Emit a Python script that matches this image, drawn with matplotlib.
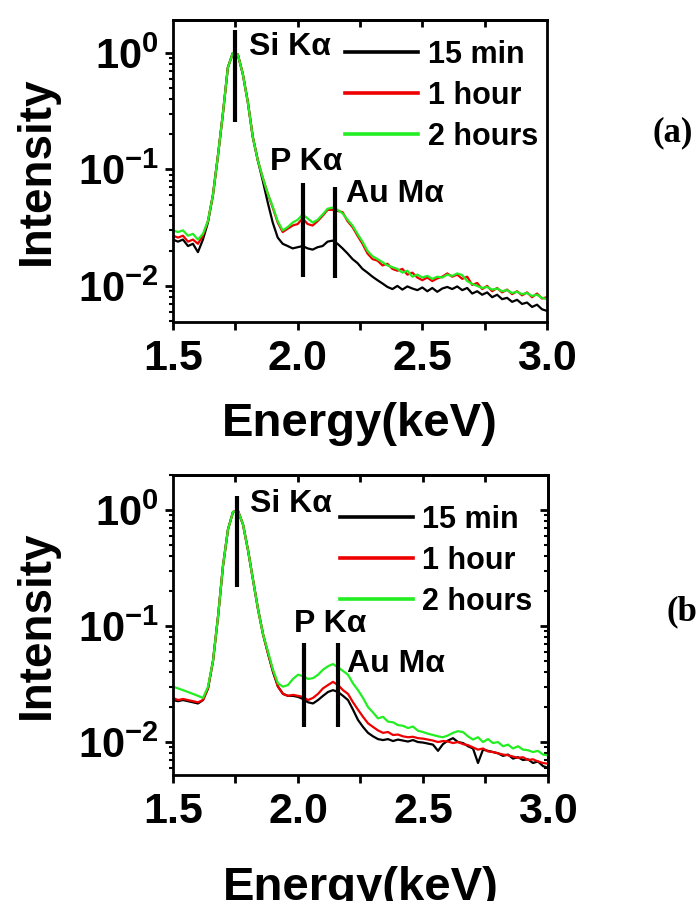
import numpy as np
import matplotlib
matplotlib.use("Agg")
import matplotlib.pyplot as plt
from matplotlib.ticker import FixedLocator, FuncFormatter, LogLocator, NullFormatter, MultipleLocator

plt.rcParams['font.family'] = ['Liberation Sans', 'DejaVu Sans']
plt.rcParams['font.weight'] = 'bold'
plt.rcParams['mathtext.fontset'] = 'custom'
plt.rcParams['mathtext.rm'] = 'Liberation Sans:bold'
plt.rcParams['mathtext.bf'] = 'Liberation Sans:bold'
plt.rcParams['mathtext.default'] = 'bf'

# Energy axis (keV), sampled every 0.02 keV
energy = np.round(np.arange(1.50, 3.001, 0.02), 2)

# ---- panel (a) spectra, normalised to Si K-alpha peak ----
a_15min = [0.025, 0.024, 0.025, 0.022, 0.023, 0.0195, 0.025, 0.035, 0.060, 0.13,
           0.30, 0.75, 1.00, 0.97, 0.66, 0.38, 0.19, 0.12, 0.080, 0.052,
           0.035, 0.026, 0.023, 0.022, 0.021, 0.0215, 0.022, 0.021, 0.0205, 0.0215,
           0.022, 0.024, 0.0245, 0.023, 0.021, 0.019, 0.017, 0.0157, 0.014, 0.0130,
           0.0120, 0.0112, 0.0105, 0.0098, 0.0094, 0.0100, 0.0093, 0.0099, 0.0095, 0.0092,
           0.0097, 0.0090, 0.0096, 0.0089, 0.0095, 0.0098, 0.0094, 0.0099, 0.0092, 0.0096,
           0.0086, 0.0090, 0.0084, 0.0088, 0.0080, 0.0084, 0.0077, 0.0079, 0.0073, 0.0076,
           0.0070, 0.0072, 0.0066, 0.0069, 0.0063, 0.0061]
a_1hour = [0.027, 0.026, 0.027, 0.024, 0.025, 0.023, 0.027, 0.036, 0.060, 0.13,
           0.30, 0.75, 1.00, 0.97, 0.66, 0.38, 0.19, 0.12, 0.085, 0.062,
           0.047, 0.035, 0.029, 0.031, 0.033, 0.034, 0.038, 0.034, 0.033, 0.036,
           0.040, 0.045, 0.045, 0.044, 0.043, 0.036, 0.032, 0.027, 0.023, 0.019,
           0.017, 0.0165, 0.0150, 0.0155, 0.0140, 0.0135, 0.0140, 0.0125, 0.0130, 0.0118,
           0.0112, 0.0118, 0.0110, 0.0116, 0.0120, 0.0128, 0.0120, 0.0125, 0.0115, 0.0120,
           0.0102, 0.0106, 0.0094, 0.0100, 0.0090, 0.0096, 0.0088, 0.0093, 0.0085, 0.0090,
           0.0083, 0.0088, 0.0080, 0.0086, 0.0078, 0.0080]
a_2hours = [0.030, 0.029, 0.030, 0.027, 0.028, 0.025, 0.028, 0.036, 0.060, 0.13,
            0.30, 0.75, 1.00, 0.97, 0.66, 0.38, 0.19, 0.12, 0.085, 0.062,
            0.048, 0.036, 0.030, 0.032, 0.035, 0.037, 0.041, 0.038, 0.035, 0.037,
            0.041, 0.046, 0.047, 0.045, 0.042, 0.037, 0.033, 0.028, 0.024, 0.020,
            0.018, 0.017, 0.016, 0.015, 0.0145, 0.014, 0.013, 0.0135, 0.012, 0.0125,
            0.0118, 0.0122, 0.0115, 0.0120, 0.0118, 0.0125, 0.0122, 0.0128, 0.0124, 0.0110,
            0.0104, 0.0100, 0.0096, 0.0098, 0.0093, 0.0095, 0.0090, 0.0092, 0.0087, 0.0089,
            0.0085, 0.0087, 0.0082, 0.0084, 0.0079, 0.0077]

# ---- panel (b) spectra ----
b_15min = [0.023, 0.0225, 0.023, 0.0225, 0.022, 0.0215, 0.023, 0.029, 0.050, 0.12,
           0.33, 0.68, 0.96, 0.98, 0.75, 0.45, 0.25, 0.14, 0.085, 0.058,
           0.040, 0.030, 0.026, 0.025, 0.025, 0.0245, 0.0235, 0.022, 0.0215, 0.023,
           0.025, 0.027, 0.028, 0.027, 0.025, 0.023, 0.019, 0.0155, 0.0135, 0.0120,
           0.0112, 0.0106, 0.0104, 0.0106, 0.0102, 0.0105, 0.0103, 0.0101, 0.0104, 0.0100,
           0.0099, 0.0097, 0.0095, 0.0084, 0.0096, 0.0103, 0.0108, 0.0100, 0.0098, 0.0092,
           0.0088, 0.0066, 0.0086, 0.0084, 0.0082, 0.0080, 0.0076, 0.0078, 0.0072, 0.0074,
           0.0070, 0.0071, 0.0066, 0.0068, 0.0062, 0.0060]
b_1hour = [0.024, 0.023, 0.0235, 0.023, 0.0225, 0.022, 0.023, 0.029, 0.050, 0.12,
           0.33, 0.68, 0.96, 0.98, 0.75, 0.45, 0.25, 0.14, 0.085, 0.058,
           0.041, 0.030, 0.026, 0.025, 0.0255, 0.025, 0.0245, 0.023, 0.024, 0.026,
           0.029, 0.031, 0.033, 0.031, 0.028, 0.026, 0.022, 0.019, 0.0165, 0.0145,
           0.0135, 0.0126, 0.0120, 0.0122, 0.0115, 0.0116, 0.0112, 0.0110, 0.0111, 0.0108,
           0.0107, 0.0105, 0.0103, 0.0100, 0.0102, 0.0101, 0.0098, 0.0100, 0.0096, 0.0094,
           0.0090, 0.0086, 0.0088, 0.0083, 0.0082, 0.0080, 0.0078, 0.0077, 0.0075, 0.0073,
           0.0074, 0.0070, 0.0071, 0.0068, 0.0066, 0.0065]
b_2hours = [0.030, 0.029, 0.028, 0.027, 0.026, 0.025, 0.024, 0.030, 0.050, 0.12,
            0.33, 0.68, 0.96, 0.98, 0.75, 0.45, 0.25, 0.14, 0.085, 0.060,
            0.042, 0.032, 0.030, 0.031, 0.035, 0.038, 0.037, 0.035, 0.0355, 0.038,
            0.042, 0.045, 0.047, 0.044, 0.041, 0.038, 0.032, 0.028, 0.024, 0.020,
            0.018, 0.016, 0.0165, 0.0150, 0.0148, 0.0140, 0.0138, 0.0132, 0.0136, 0.0125,
            0.0122, 0.0118, 0.0115, 0.0112, 0.0110, 0.0114, 0.0120, 0.0124, 0.0122, 0.0112,
            0.0105, 0.0110, 0.0100, 0.0106, 0.0098, 0.0100, 0.0092, 0.0095, 0.0088, 0.0092,
            0.0086, 0.0085, 0.0082, 0.0084, 0.0078, 0.0077]

labels = ['15 min', '1 hour', '2 hours']
colors = ['#000000', '#ee0000', '#22ee22']

# Emission-line markers: (label, energy, ymin, ymax) per panel
lines_a = [('Si K\u03b1', 1.75, 0.256, 1.58), ('P K\u03b1', 2.02, 0.0119, 0.077),
           ('Au M\u03b1', 2.15, 0.0117, 0.071)]
lines_b = [('Si K\u03b1', 1.755, 0.217, 1.32), ('P K\u03b1', 2.025, 0.0134, 0.071),
           ('Au M\u03b1', 2.16, 0.0134, 0.071)]

fig = plt.figure(figsize=(6.97, 9.01), dpi=100)
W, H = 697.0, 901.0


def make_axes(left, right, top, bottom):
    return fig.add_axes([left / W, 1 - bottom / H, (right - left) / W, (bottom - top) / H])


def decade_label(v, pos):
    return r'$10^{%d}$' % int(round(np.log10(v)))


def style(ax, ylim, right_ticks):
    ax.set_yscale('log')
    ax.set_xlim(1.5, 3.0)
    ax.set_ylim(*ylim)
    for s in ax.spines.values():
        s.set_linewidth(2.0)
    ax.xaxis.set_major_locator(FixedLocator([1.5, 2.0, 2.5, 3.0]))
    ax.xaxis.set_minor_locator(MultipleLocator(0.25))
    ax.xaxis.set_major_formatter(FuncFormatter(lambda v, p: '%.1f' % v))
    ax.yaxis.set_major_locator(FixedLocator([0.01, 0.1, 1.0]))
    ax.yaxis.set_major_formatter(FuncFormatter(decade_label))
    ax.yaxis.set_minor_locator(LogLocator(base=10, subs=np.arange(2, 10)))
    ax.yaxis.set_minor_formatter(NullFormatter())
    ax.tick_params(axis='x', which='both', direction='out', bottom=True, top=False,
                   length=6, width=2, labelsize=31, pad=6)
    ax.tick_params(axis='y', which='major', direction='out', left=True, right=False,
                   length=6, width=2, labelsize=30, pad=4)
    ax.tick_params(axis='y', which='minor', direction='out', left=True, right=False,
                   length=3, width=1.5)
    # short inward ticks along the top edge
    sec = ax.secondary_xaxis('top')
    sec.set_xticks([1.75, 2.0, 2.25, 2.5, 2.75])
    sec.tick_params(direction='in', length=5, width=2, labeltop=False)
    sec.spines['top'].set_linewidth(2.0)
    if right_ticks:
        secy = ax.secondary_yaxis('right')
        secy.yaxis.set_major_locator(FixedLocator([0.01, 0.1, 1.0]))
        secy.yaxis.set_minor_locator(LogLocator(base=10, subs=np.arange(2, 10)))
        secy.yaxis.set_major_formatter(NullFormatter())
        secy.yaxis.set_minor_formatter(NullFormatter())
        secy.tick_params(which='major', direction='in', length=6, width=2)
        secy.tick_params(which='minor', direction='in', length=3, width=1.5)
        secy.spines['right'].set_linewidth(2.0)


def draw_panel(ax, series, markers, text_pos, leg_anchor):
    for y, c, lab in zip(series, colors, labels):
        ax.plot(energy, y, color=c, lw=1.6, label=lab)
    for (name, e, y0, y1), (tx, ty) in zip(markers, text_pos):
        ax.vlines(e, y0, y1, color='black', lw=3.0, zorder=5)
        ax.text(tx, ty, name, fontsize=23, fontweight='bold', va='center', ha='left')
    leg = ax.legend(loc='upper left', bbox_to_anchor=leg_anchor, frameon=False,
                    fontsize=22, handlelength=2.4, handletextpad=0.3,
                    labelspacing=0.36, borderpad=0, borderaxespad=0)
    for h in leg.get_lines():
        h.set_linewidth(2.6)


# panel (a)
ax1 = make_axes(173, 547, 20, 322)
style(ax1, (0.0049, 1.92), right_ticks=False)
draw_panel(ax1, [a_15min, a_1hour, a_2hours], lines_a,
           [(1.805, 1.12), (1.89, 0.115), (2.195, 0.062)], (0.46, 0.935))
ax1.set_ylabel('Intensity', fontsize=33, fontweight='bold', labelpad=14)
ax1.set_xlabel('Energy(keV)', fontsize=34, fontweight='bold', labelpad=17)

# panel (b)
ax2 = make_axes(173, 548, 475, 775)
style(ax2, (0.0052, 2.0), right_ticks=True)
draw_panel(ax2, [b_15min, b_1hour, b_2hours], lines_b,
           [(1.81, 1.12), (1.985, 0.105), (2.195, 0.047)], (0.445, 0.90))
ax2.set_ylabel('Intensity', fontsize=33, fontweight='bold', labelpad=14)
ax2.set_xlabel('Energy(keV)', fontsize=34, fontweight='bold', labelpad=25)

# panel tags
fig.text(653 / W, 1 - 133 / H, '(a)', fontsize=25, fontweight='bold',
         family='Liberation Serif', ha='left', va='center')
fig.text(667 / W, 1 - 612 / H, '(b)', fontsize=25, fontweight='bold',
         family='Liberation Serif', ha='left', va='center')

fig.savefig('out.png', dpi=100)
